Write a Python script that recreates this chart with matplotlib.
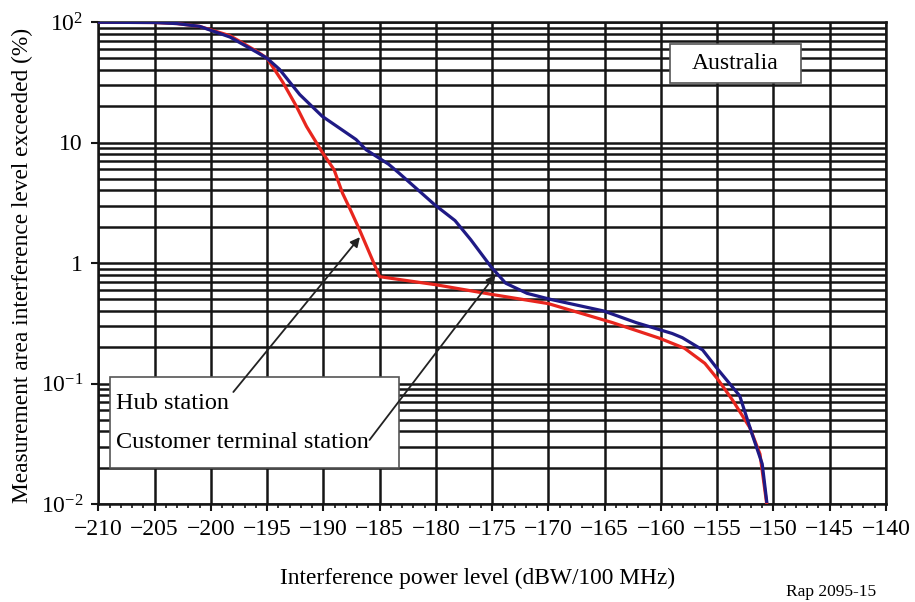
import matplotlib
matplotlib.use("Agg")
import matplotlib.pyplot as plt
from matplotlib.patches import Rectangle
from matplotlib.ticker import FixedLocator, NullFormatter

plt.rcParams['font.family'] = ['Liberation Serif', 'DejaVu Serif']
plt.rcParams['mathtext.fontset'] = 'custom'
plt.rcParams['mathtext.rm'] = 'Liberation Serif'
plt.rcParams['mathtext.it'] = 'Liberation Serif:italic'

# ---- data ----
hub_x = [-210, -205, -203, -201, -198.3, -195.9, -195, -193.6, -192.4, -191.5,
         -190.1, -189.05, -188.3, -187.7, -186.8, -185.0, -180.0, -175.1, -170.0,
         -164.3, -160.1, -157.9, -156.1, -155.0, -153.6, -152.1, -151.2, -150.6]
hub_y = [99.5, 99, 97, 92, 77, 57, 50, 31.6, 20, 13.6,
         8.3, 5.95, 3.8, 2.9, 1.9, 0.77, 0.66, 0.55, 0.46,
         0.32, 0.237, 0.196, 0.147, 0.11, 0.072, 0.043, 0.026, 0.01]

cust_x = [-210, -205, -203, -201, -198.3, -195.9, -195, -193.9, -192.1, -190.1,
          -187.1, -186.2, -184.2, -183.3, -180.1, -178.3, -176.9, -175.1, -173.8,
          -171.9, -169.85, -165.1, -162.2, -159.0, -158.1, -156.3, -155.0, -153.0,
          -151.9, -151.0, -150.6]
cust_y = [99.5, 99, 97, 92, 75, 56, 50, 40.5, 25, 16.5,
          10.6, 8.7, 6.6, 5.6, 3.04, 2.25, 1.56, 0.93, 0.68,
          0.56, 0.50, 0.40, 0.32, 0.26, 0.24, 0.19, 0.133, 0.079,
          0.038, 0.0215, 0.0105]

x_ticks = [-210, -205, -200, -195, -190, -185, -180, -175, -170, -165, -160, -155, -150, -145, -140]
x_tick_labels = ['\u2212' + str(abs(v)) for v in x_ticks]
y_ticks = [0.01, 0.1, 1, 10, 100]
y_tick_labels = [r'$\mathregular{10^{-2}}$', r'$\mathregular{10^{-1}}$', '1', '10', r'$\mathregular{10^{2}}$']

series_names = ['Hub station', 'Customer terminal station']
region_name = 'Australia'

# ---- figure ----
fig = plt.figure(figsize=(9.15, 6.02), dpi=100)
ax = fig.add_axes([98.3 / 915, (602 - 504) / 602, (886 - 98.3) / 915, (504 - 22) / 602])

ax.set_yscale('log')
ax.set_xlim(-210, -140)
ax.set_ylim(0.01, 100)

ax.set_xticks(x_ticks)
ax.set_xticklabels(x_tick_labels)
ax.xaxis.set_minor_locator(FixedLocator([v for v in range(-210, -139) if v % 5 != 0]))
ax.set_yticks(y_ticks)
ax.set_yticklabels(y_tick_labels)
minor_y = [m * 10.0 ** e for e in range(-2, 2) for m in range(2, 10)]
ax.yaxis.set_minor_locator(FixedLocator(minor_y))
ax.yaxis.set_minor_formatter(NullFormatter())

gc = '#151515'
ax.grid(True, which='major', axis='both', color=gc, lw=1.8, zorder=1)
ax.grid(True, which='minor', axis='y', color=gc, lw=1.8, zorder=1)
ax.set_axisbelow(True)
for s in ax.spines.values():
    s.set_color(gc)
    s.set_linewidth(1.8)

ax.tick_params(axis='both', which='major', labelsize=17, direction='out', length=5,
               width=1.5, color=gc, pad=6)
ax.tick_params(axis='x', which='minor', direction='out', length=3, width=1.2, color=gc)
ax.tick_params(axis='y', which='minor', length=0)

ax.plot(hub_x, hub_y, color='#e8261e', lw=2.3, zorder=3)
ax.plot(cust_x, cust_y, color='#1f1a85', lw=2.3, zorder=3)

# legend-like box
ax.add_patch(Rectangle((0.0149, 0.0747), 0.3668, 0.1888, transform=ax.transAxes,
                       facecolor='white', edgecolor='#555555', lw=1.2, zorder=4))
ax.text(0.023, 0.2075, series_names[0], transform=ax.transAxes, fontsize=17.5,
        va='center', ha='left', zorder=5)
ax.text(0.023, 0.1286, series_names[1], transform=ax.transAxes, fontsize=17.5,
        va='center', ha='left', zorder=5)

ax.annotate('', xy=(-186.75, 1.64), xytext=(-198.0, 0.085),
            arrowprops=dict(arrowstyle='-|>', color='#222222', lw=1.3,
                            mutation_scale=14, shrinkA=0, shrinkB=0), zorder=6)
ax.annotate('', xy=(-174.7, 0.8), xytext=(-185.9, 0.034),
            arrowprops=dict(arrowstyle='-|>', color='#222222', lw=1.3,
                            mutation_scale=14, shrinkA=0, shrinkB=0), zorder=6)

# region box
ax.add_patch(Rectangle((0.7258, 0.8734), 0.1663, 0.081, transform=ax.transAxes,
                       facecolor='white', edgecolor='#555555', lw=1.2, zorder=4))
ax.text(0.8089, 0.913, region_name, transform=ax.transAxes, fontsize=17,
        va='center', ha='center', zorder=5)

fig.text(22 / 915, 1 - 265 / 602, 'Measurement area interference level exceeded (%)',
         rotation=90, fontsize=16.8, ha='center', va='center')
fig.text(478 / 915, 1 - 578 / 602, 'Interference power level (dBW/100 MHz)',
         fontsize=16.8, ha='center', va='center')
fig.text(876 / 915, 1 - 592 / 602, 'Rap 2095-15', fontsize=12.5, ha='right', va='center')

fig.savefig('out.png', dpi=100)
